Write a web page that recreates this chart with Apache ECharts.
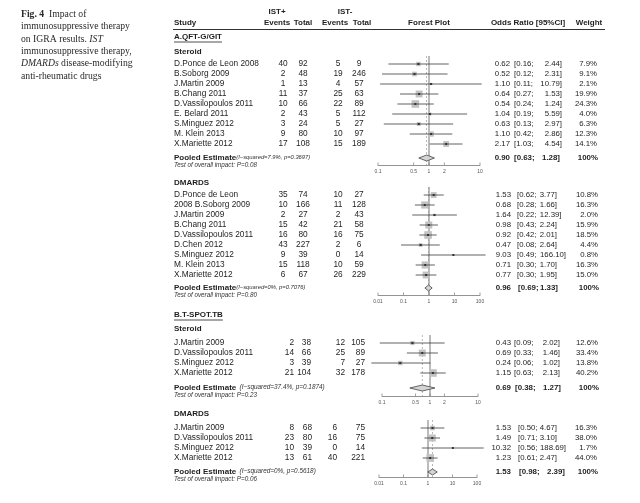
<!DOCTYPE html>
<html><head><meta charset="utf-8">
<script src="https://cdn.jsdelivr.net/npm/echarts@6/dist/echarts.min.js"></script>
<style>html,body{margin:0;padding:0;background:#fff}#c{width:640px;height:503px}</style>
</head><body><div id="c"></div>
<script>
// ---------- DATA ----------
// A.QFT-G/GIT  Steroid
const aSteroidStudies = ["D.Ponce de Leon 2008","B.Soborg 2009","J.Martin 2009","B.Chang 2011","D.Vassilopoulos 2011","E. Belard 2011","S.Minguez 2012","M. Klein 2013","X.Mariette 2012"];
const aSteroidEvPlus  = [40,2,1,11,10,2,3,9,17];
const aSteroidTotPlus = [92,48,13,37,66,43,24,80,108];
const aSteroidEvMinus = [5,19,4,25,22,5,5,10,15];
const aSteroidTotMinus= [9,246,57,63,89,112,27,97,189];
const aSteroidOR = [0.62,0.52,1.10,0.64,0.54,1.04,0.63,1.10,2.17];
const aSteroidLo = [0.16,0.12,0.11,0.27,0.24,0.19,0.13,0.42,1.03];
const aSteroidHi = [2.44,2.31,10.79,1.53,1.24,5.59,2.97,2.86,4.54];
const aSteroidWt = [7.9,9.1,2.1,19.9,24.3,4.0,6.3,12.3,14.1];
const aSteroidPooled = [0.90,0.63,1.28];
const aSteroidHet = ["7.9%","0.3697"];
const aSteroidTestP = "0.08";
// A.QFT-G/GIT  DMARDS
const aDmardStudies = ["D.Ponce de Leon","2008 B.Soborg 2009","J.Martin 2009","B.Chang 2011","D.Vassilopoulos 2011","D.Chen 2012","S.Minguez 2012","M. Klein 2013","X.Mariette 2012"];
const aDmardEvPlus  = [35,10,2,15,16,43,9,15,6];
const aDmardTotPlus = [74,166,27,42,80,227,39,118,67];
const aDmardEvMinus = [10,11,2,21,16,2,0,10,26];
const aDmardTotMinus= [27,128,43,58,75,6,14,59,229];
const aDmardOR = [1.53,0.68,1.64,0.98,0.92,0.47,9.03,0.71,0.77];
const aDmardLo = [0.62,0.28,0.22,0.43,0.42,0.08,0.49,0.30,0.30];
const aDmardHi = [3.77,1.66,12.39,2.24,2.01,2.64,166.10,1.70,1.95];
const aDmardWt = [10.8,16.3,2.0,15.9,18.5,4.4,0.8,16.3,15.0];
const aDmardPooled = [0.96,0.69,1.33];
const aDmardHet = ["0%","0.7076"];
const aDmardTestP = "0.80";
// B.T-SPOT.TB  Steroid
const bSteroidStudies = ["J.Martin 2009","D.Vassilopoulos 2011","S.Minguez 2012","X.Mariette 2012"];
const bSteroidEvPlus  = [2,14,3,21];
const bSteroidTotPlus = [38,66,39,104];
const bSteroidEvMinus = [12,25,7,32];
const bSteroidTotMinus= [105,89,27,178];
const bSteroidOR = [0.43,0.69,0.24,1.15];
const bSteroidLo = [0.09,0.33,0.06,0.63];
const bSteroidHi = [2.02,1.46,1.02,2.13];
const bSteroidWt = [12.6,33.4,13.8,40.2];
const bSteroidPooled = [0.69,0.38,1.27];
const bSteroidHet = ["37.4%","0.1874"];
const bSteroidTestP = "0.23";
// B.T-SPOT.TB  DMARDS
const bDmardStudies = ["J.Martin 2009","D.Vassilopoulos 2011","S.Minguez 2012","X.Mariette 2012"];
const bDmardEvPlus  = [8,23,10,13];
const bDmardTotPlus = [68,80,39,61];
const bDmardEvMinus = [6,16,0,40];
const bDmardTotMinus= [75,75,14,221];
const bDmardOR = [1.53,1.49,10.32,1.23];
const bDmardLo = [0.50,0.71,0.56,0.61];
const bDmardHi = [4.67,3.10,188.69,2.47];
const bDmardWt = [16.3,38.0,1.7,44.0];
const bDmardPooled = [1.53,0.98,2.39];
const bDmardHet = ["0%","0.5618"];
const bDmardTestP = "0.06";
// axis ticks
const ticksNarrow = [0.1,0.5,1,2,10];
const ticksNarrowLabels = ["0.1","0.5","1","2","10"];
const ticksWide = [0.01,0.1,1,10,100];
const ticksWideLabels = ["0.01","0.1","1","10","100"];
// ---------- LAYOUT ----------
const panels = [
 {studies:aSteroidStudies, ep:aSteroidEvPlus, tp:aSteroidTotPlus, em:aSteroidEvMinus, tm:aSteroidTotMinus,
  or:aSteroidOR, lo:aSteroidLo, hi:aSteroidHi, wt:aSteroidWt, pooled:aSteroidPooled, het:aSteroidHet, testP:aSteroidTestP,
  ticks:ticksNarrow, tickLabels:ticksNarrowLabels, sub:"Steroid",
  L:{top:54, pooledY:158, axisY:165, left:378, width:102, xmin:0.1, xmax:10, subY:52,
     colX:[283,303,338,359], colAlign:'center', orR:510, loL:514, hiR:562, hiPad:0, wR:597, pLoL:514, pHiR:560, hetSpace:'', hetSize:5.8}},
 {studies:aDmardStudies, ep:aDmardEvPlus, tp:aDmardTotPlus, em:aDmardEvMinus, tm:aDmardTotMinus,
  or:aDmardOR, lo:aDmardLo, hi:aDmardHi, wt:aDmardWt, pooled:aDmardPooled, het:aDmardHet, testP:aDmardTestP,
  ticks:ticksWide, tickLabels:ticksWideLabels, sub:"DMARDS",
  L:{top:185, pooledY:288, axisY:295, left:378, width:102, xmin:0.01, xmax:100, subY:183,
     colX:[283,303,338,359], colAlign:'center', orR:511, loL:517, hiR:557, hiPad:4.5, wR:598, pLoL:518, pHiR:558, hetSpace:'', hetSize:5.8}},
 {studies:bSteroidStudies, ep:bSteroidEvPlus, tp:bSteroidTotPlus, em:bSteroidEvMinus, tm:bSteroidTotMinus,
  or:bSteroidOR, lo:bSteroidLo, hi:bSteroidHi, wt:bSteroidWt, pooled:bSteroidPooled, het:bSteroidHet, testP:bSteroidTestP,
  ticks:ticksNarrow, tickLabels:ticksNarrowLabels, sub:"Steroid",
  L:{top:333, pooledY:388, axisY:396, left:382, width:96, xmin:0.1, xmax:10, subY:329,
     colX:[294,311,345,365], colAlign:'right', orR:511, loL:514, hiR:560, hiPad:0, wR:598, pLoL:515, pHiR:561, hetSpace:' ', hetSize:6.4}},
 {studies:bDmardStudies, ep:bDmardEvPlus, tp:bDmardTotPlus, em:bDmardEvMinus, tm:bDmardTotMinus,
  or:bDmardOR, lo:bDmardLo, hi:bDmardHi, wt:bDmardWt, pooled:bDmardPooled, het:bDmardHet, testP:bDmardTestP,
  ticks:ticksWide, tickLabels:ticksWideLabels, sub:"DMARDS",
  L:{top:418, pooledY:472, axisY:477, left:379, width:98, xmin:0.01, xmax:100, subY:414,
     colX:[294,312,337,365], colAlign:'right', orR:511, loL:518, hiR:557, hiPad:4.5, wR:597, pLoL:519, pHiR:565, hetSpace:' ', hetSize:6.4}}
];
const FF = 'Liberation Sans, Arial, sans-serif';
const TXT = '#1e1e1e';
const ROW = 10;
const graphic = [];
function txt(x,y,text,opt){
  opt = opt||{};
  graphic.push({type:'text', silent:true, style:Object.assign({x:x,y:y,text:text,fontFamily:FF,fontSize:8.3,fill:TXT,align:'left',verticalAlign:'middle'},opt)});
}
const mctx = document.createElement('canvas').getContext('2d');
function measure(t,font){mctx.font=font;return mctx.measureText(t).width;}

// caption
graphic.push({type:'text', silent:true, style:{x:21, y:8, fontFamily:'Liberation Serif, Times New Roman, serif', fontSize:9.7, fill:'#2a2a2a', lineHeight:12.4,
  text:'{b|Fig. 4}  Impact of\nimmunosuppressive therapy\non IGRA results. {i|IST}\nimmunosuppressive therapy,\n{i|DMARDs} disease-modifying\nanti-rheumatic drugs',
  rich:{b:{fontWeight:'bold',fontFamily:'Liberation Serif, serif',fontSize:9.7,lineHeight:12.4,fill:'#2a2a2a'},
        i:{fontStyle:'italic',fontFamily:'Liberation Serif, serif',fontSize:9.7,lineHeight:12.4,fill:'#2a2a2a'}}}});

// header
const HB = {fontWeight:'bold', fontSize:8};
txt(174,23,'Study',HB);
txt(277,12,'IST+',Object.assign({align:'center'},HB));
txt(277,23,'Events',Object.assign({align:'center'},HB));
txt(303,23,'Total',Object.assign({align:'center'},HB));
txt(345,12,'IST-',Object.assign({align:'center'},HB));
txt(335,23,'Events',Object.assign({align:'center'},HB));
txt(362,23,'Total',Object.assign({align:'center'},HB));
txt(429,23,'Forest Plot',Object.assign({align:'center'},HB));
txt(528,23,'Odds Ratio [95%CI]',Object.assign({align:'center'},HB));
txt(589,23,'Weight',Object.assign({align:'center'},HB));
graphic.push({type:'line', silent:true, shape:{x1:173,y1:29.5,x2:605,y2:29.5}, style:{stroke:'#333',lineWidth:1}});

// section headings (underlined)
[['A.QFT-G/GIT',37],['B.T-SPOT.TB',315]].forEach(function(s){
  txt(174,s[1],s[0],{fontWeight:'bold',fontSize:8});
  const w = measure(s[0],'bold 8px '+FF);
  graphic.push({type:'line', silent:true, shape:{x1:174,y1:s[1]+5,x2:174+w,y2:s[1]+5}, style:{stroke:'#222',lineWidth:0.8}});
});

const grids=[], xAxes=[], yAxes=[], series=[];
panels.forEach(function(p,k){
  const L = p.L;
  const n = p.studies.length;
  const height = L.axisY - L.top;
  const ymax = height/ROW;
  const pooledV = (L.pooledY - L.top)/ROW;
  grids.push({left:L.left, top:L.top, width:L.width, height:height});
  xAxes.push({type:'log', logBase:10, gridIndex:k, min:L.xmin, max:L.xmax, position:'bottom',
    axisLine:{show:true, onZero:false, lineStyle:{color:'#777', width:0.8}}, axisTick:{show:false}, axisLabel:{show:false}, splitLine:{show:false}});
  yAxes.push({type:'value', gridIndex:k, min:0, max:ymax, inverse:true, show:false});
  txt(174, L.subY, p.sub, {fontWeight:'bold', fontSize:8});
  const wmax = Math.max.apply(null,p.wt);
  const fdata=[];
  for(let i=0;i<n;i++){
    const y = L.top + (i+1)*ROW;
    txt(174,y,p.studies[i]);
    [p.ep[i],p.tp[i],p.em[i],p.tm[i]].forEach(function(v,c){ txt(L.colX[c],y,String(v),{align:L.colAlign}); });
    const hs = p.hi[i].toFixed(2);
    txt(L.orR,y,p.or[i].toFixed(2),{align:'right',fontSize:7.8});
    txt(L.loL,y,'['+p.lo[i].toFixed(2)+';',{fontSize:7.8});
    txt(L.hiR + Math.max(0,hs.length-4)*L.hiPad,y,hs+']',{align:'right',fontSize:7.8});
    txt(L.wR,y,p.wt[i].toFixed(1)+'%',{align:'right',fontSize:7.8});
    fdata.push([p.or[i], i+1, p.lo[i], p.hi[i], Math.max(1.6, 7.6*Math.sqrt(p.wt[i]/wmax))]);
  }
  const PB = {fontWeight:'bold',fontSize:7.9};
  graphic.push({type:'text', silent:true, style:{x:174, y:L.pooledY-0.5, verticalAlign:'middle', fontFamily:FF, fill:TXT,
    text:'{b|Pooled Estimate}'+L.hetSpace+'{s|(I\u2212squared='+p.het[0]+', p='+p.het[1]+')}',
    rich:{b:{fontWeight:'bold',fontSize:8,fontFamily:FF,fill:TXT}, s:{fontStyle:'italic',fontSize:L.hetSize,fontFamily:FF,fill:'#333'}}}});
  txt(174, L.pooledY+7.5, 'Test of overall impact: P='+p.testP, {fontStyle:'italic', fontSize:6.3, fill:'#333'});
  txt(L.orR, L.pooledY, p.pooled[0].toFixed(2), Object.assign({align:'right'},PB));
  txt(L.pLoL, L.pooledY, '['+p.pooled[1].toFixed(2)+';', PB);
  txt(L.pHiR, L.pooledY, p.pooled[2].toFixed(2)+']', Object.assign({align:'right'},PB));
  txt(L.wR+1, L.pooledY, '100%', Object.assign({align:'right'},PB));

  series.push({type:'custom', xAxisIndex:k, yAxisIndex:k, clip:false, silent:true, z:1,
    data:[[1,0.2,ymax,0],[p.pooled[0],0.2,ymax,1]],
    renderItem:function(params,api){
      const a = api.coord([api.value(0),api.value(1)]), b = api.coord([api.value(0),api.value(2)]);
      const dashed = api.value(3)===1;
      return {type:'line', shape:{x1:a[0],y1:a[1],x2:b[0],y2:b[1]},
        style:{stroke: dashed?'#9a9a9a':'#555', lineWidth: dashed?0.7:0.8, lineDash: dashed?[2,2]:null}};
    }});
  series.push({type:'custom', xAxisIndex:k, yAxisIndex:k, clip:false, silent:true, z:3, data:fdata,
    renderItem:function(params,api){
      const y = api.value(1), s = api.value(4);
      const c = api.coord([api.value(0),y]), lo = api.coord([api.value(2),y]), hi = api.coord([api.value(3),y]);
      return {type:'group', children:[
        {type:'rect', shape:{x:c[0]-s/2,y:c[1]-s/2,width:s,height:s}, style:{fill:'#c2c2c2'}},
        {type:'line', shape:{x1:lo[0],y1:c[1],x2:hi[0],y2:c[1]}, style:{stroke:'#3a3a3a',lineWidth:0.8}},
        {type:'rect', shape:{x:c[0]-1,y:c[1]-1,width:2,height:2}, style:{fill:'#333'}}
      ]};
    }});
  series.push({type:'custom', xAxisIndex:k, yAxisIndex:k, clip:false, silent:true, z:4,
    data:[[p.pooled[0], pooledV, p.pooled[1], p.pooled[2]]],
    renderItem:function(params,api){
      const y = api.value(1);
      const c = api.coord([api.value(0),y]), lo = api.coord([api.value(2),y]), hi = api.coord([api.value(3),y]);
      const h = 3;
      return {type:'polygon', shape:{points:[[lo[0],c[1]],[c[0],c[1]-h],[hi[0],c[1]],[c[0],c[1]+h]]},
        style:{fill:'#d4d4d4', stroke:'#444', lineWidth:0.8}};
    }});
  series.push({type:'custom', xAxisIndex:k, yAxisIndex:k, clip:false, silent:true, z:2,
    data:p.ticks.map(function(t,j){return [t, ymax, j];}),
    renderItem:function(params,api){
      const a = api.coord([api.value(0),api.value(1)]);
      const lab = p.tickLabels[api.value(2)];
      return {type:'group', children:[
        {type:'line', shape:{x1:a[0],y1:a[1],x2:a[0],y2:a[1]-2.5}, style:{stroke:'#777',lineWidth:0.7}},
        {type:'text', style:{x:a[0], y:a[1]+6.5, text:lab, align:'center', verticalAlign:'middle', fontSize:5, fontFamily:FF, fill:'#555'}}
      ]};
    }});
});

const chart = echarts.init(document.getElementById('c'), null, {renderer:'canvas'});
chart.setOption({animation:false, backgroundColor:'#fff', grid:grids, xAxis:xAxes, yAxis:yAxes, series:series, graphic:graphic});
</script></body></html>
